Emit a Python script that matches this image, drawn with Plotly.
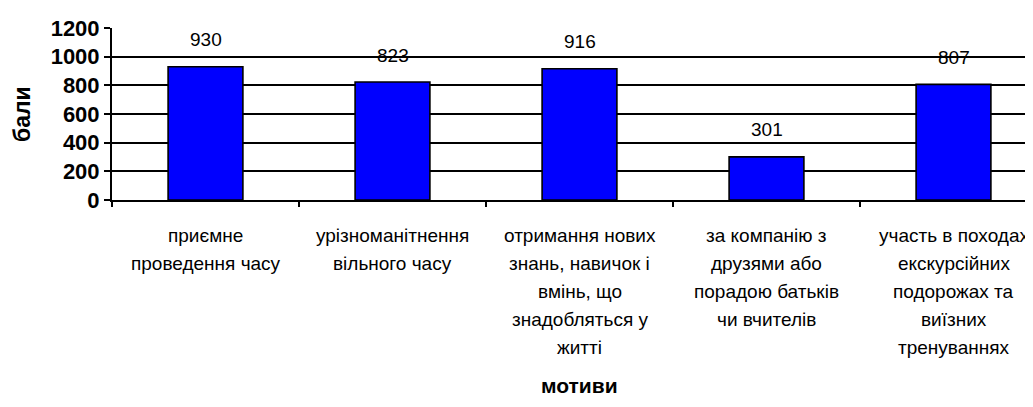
import plotly.graph_objects as go

categories = [
    "приємне\nпроведення часу",
    "урізноманітнення\nвільного часу",
    "отримання нових\nзнань, навичок і\nвмінь, що\nзнадобляться у\nжитті",
    "за компанію з\nдрузями або\nпорадою батьків\nчи вчителів",
    "участь в походах\nекскурсійних\nподорожах та\nвиїзних\nтренуваннях",
]
values = [930, 823, 916, 301, 807]
y_ticks = [0, 200, 400, 600, 800, 1000, 1200]
y_title = "бали"
x_title = "мотиви"

FONT = "Liberation Sans, Arial, sans-serif"
W, H = 1033, 407
# page body adds an 8px offset; compensate in margins
ml, mr, mt, mb = 104, 8, 14, 215

x_idx = list(range(len(categories)))

fig = go.Figure()
fig.add_trace(go.Bar(
    x=x_idx, y=values, width=0.4,
    marker=dict(color="#0000FF", line=dict(color="black", width=1.6)),
    hoverinfo="skip",
))

annotations = []
for i, v in zip(x_idx, values):
    annotations.append(dict(x=i, y=v, xref="x", yref="y", text=str(v), showarrow=False,
                            yanchor="middle", yshift=27,
                            font=dict(family=FONT, size=19, color="black")))
line_gap = 28
for i, c in zip(x_idx, categories):
    for k, line in enumerate(c.split("\n")):
        annotations.append(dict(x=i, y=0, xref="x", yref="paper", text=line, showarrow=False,
                                yanchor="middle", yshift=-35 - k * line_gap,
                                font=dict(family=FONT, size=19, color="black")))
annotations.append(dict(x=2, y=0, xref="x", yref="paper", text="<b>" + x_title + "</b>",
                        showarrow=False, yanchor="middle", yshift=-185,
                        font=dict(family=FONT, size=21, color="black")))
annotations.append(dict(x=(14 - ml) / (W - ml - mr), y=0.5, xref="paper", yref="paper",
                        text="<b>" + y_title + "</b>", textangle=-90, showarrow=False,
                        xanchor="center", yanchor="middle",
                        font=dict(family=FONT, size=23, color="black")))

fig.update_layout(
    width=W, height=H,
    margin=dict(l=ml, r=mr, t=mt, b=mb),
    paper_bgcolor="white", plot_bgcolor="white",
    showlegend=False,
    annotations=annotations,
    xaxis=dict(
        range=[-0.5, -0.5 + (W - ml - mr) / 187.0],
        tickmode="array", tickvals=[i - 0.5 for i in x_idx] + [len(x_idx) - 0.5],
        showticklabels=False,
        ticks="outside", ticklen=5, tickwidth=1.5, tickcolor="black",
        showline=True, linecolor="black", linewidth=2,
        showgrid=False, zeroline=False, fixedrange=True,
    ),
    yaxis=dict(
        range=[0, 1200], tickvals=y_ticks, ticktext=[str(t) for t in y_ticks],
        ticks="outside", ticklen=6, tickwidth=1.5, tickcolor="black",
        tickfont=dict(family=FONT, size=22, color="black", weight="bold"),
        showline=True, linecolor="black", linewidth=2,
        showgrid=True, gridcolor="black", gridwidth=1.5,
        zeroline=False, fixedrange=True,
    ),
)

fig.write_html("out.html")
